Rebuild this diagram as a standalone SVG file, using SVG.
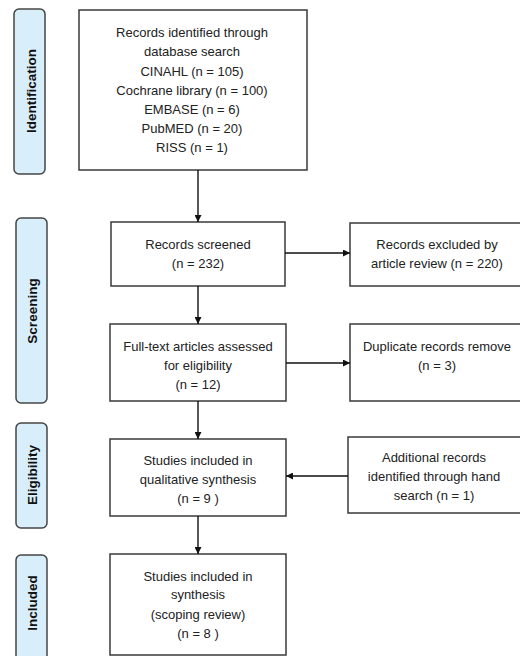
<svg xmlns="http://www.w3.org/2000/svg" width="520" height="656" viewBox="0 0 520 656">
<defs>
<style>
.box{fill:#fff;stroke:#3a3a3a;stroke-width:1.5}
.side{fill:#d8eefa;stroke:#454545;stroke-width:1.5}
.t{font-family:"Liberation Sans",Arial,sans-serif;font-size:13px;fill:#222;text-anchor:middle}
.s{font-family:"Liberation Sans",Arial,sans-serif;font-size:13.5px;font-weight:bold;fill:#111;text-anchor:middle}
.c{stroke:#111;stroke-width:1.4;fill:none;marker-end:url(#ah)}
</style>
<marker id="ah" viewBox="0 0 10 10" refX="10" refY="5" markerWidth="7" markerHeight="7" markerUnits="userSpaceOnUse" orient="auto">
<path d="M0,0 L10,5 L0,10 z" fill="#111"/>
</marker>
</defs>
<rect width="520" height="656" fill="#fff"/>
<g id="phase-identification"><rect class="side" x="14" y="9" width="31" height="165" rx="5"/><text class="s" transform="translate(35.5,91) rotate(-90)">Identification</text></g>
<g id="phase-screening"><rect class="side" x="16" y="218" width="31" height="185" rx="5"/><text class="s" transform="translate(36.5,311) rotate(-90)">Screening</text></g>
<g id="phase-eligibility"><rect class="side" x="16" y="423" width="31" height="105" rx="5"/><text class="s" transform="translate(36.5,475) rotate(-90)">Eligibility</text></g>
<g id="phase-included"><rect class="side" x="16" y="555" width="31" height="106" rx="5"/><text class="s" transform="translate(36.5,603) rotate(-90)">Included</text></g>
<g id="identified"><rect class="box" x="79" y="10" width="228" height="160"/>
<text class="t" x="192" y="37">Records identified through</text>
<text class="t" x="192" y="56">database search</text>
<text class="t" x="192" y="75.5">CINAHL (n = 105)</text>
<text class="t" x="192" y="94.5">Cochrane library (n = 100)</text>
<text class="t" x="192" y="114">EMBASE (n = 6)</text>
<text class="t" x="192" y="133">PubMED (n = 20)</text>
<text class="t" x="192" y="152">RISS (n = 1)</text></g>
<g id="screened"><rect class="box" x="111" y="222" width="174" height="64"/>
<text class="t" x="198" y="248.5">Records screened</text>
<text class="t" x="198" y="267.5">(n = 232)</text></g>
<g id="excluded"><rect class="box" x="350" y="223" width="175" height="63"/>
<text class="t" x="437" y="248.5">Records excluded by</text>
<text class="t" x="437" y="267.5">article review (n = 220)</text></g>
<g id="fulltext"><rect class="box" x="110" y="324" width="176" height="77"/>
<text class="t" x="198" y="350.5">Full-text articles assessed</text>
<text class="t" x="198" y="369.5">for eligibility</text>
<text class="t" x="198" y="388.5">(n = 12)</text></g>
<g id="duplicate"><rect class="box" x="350" y="324" width="175" height="77"/>
<text class="t" x="437" y="350.5">Duplicate records remove</text>
<text class="t" x="437" y="369.5">(n = 3)</text></g>
<g id="qualitative"><rect class="box" x="110" y="439" width="176" height="77"/>
<text class="t" x="198" y="464.5">Studies included in</text>
<text class="t" x="198" y="483.5">qualitative synthesis</text>
<text class="t" x="198" y="502.5">(n = 9 )</text></g>
<g id="additional"><rect class="box" x="348" y="437" width="177" height="76"/>
<text class="t" x="434" y="461.5">Additional records</text>
<text class="t" x="434" y="481">identified through hand</text>
<text class="t" x="434" y="499.5">search (n = 1)</text></g>
<g id="included"><rect class="box" x="110" y="554" width="176" height="101"/>
<text class="t" x="198" y="580.5">Studies included in</text>
<text class="t" x="198" y="599">synthesis</text>
<text class="t" x="198" y="618.5">(scoping review)</text>
<text class="t" x="198" y="637.5">(n = 8 )</text></g>
<g id="connectors">
<line class="c" x1="198" y1="170" x2="198" y2="222"/>
<line class="c" x1="285" y1="253" x2="350" y2="253"/>
<line class="c" x1="198" y1="286" x2="198" y2="324"/>
<line class="c" x1="286" y1="363" x2="350" y2="363"/>
<line class="c" x1="198" y1="401" x2="198" y2="439"/>
<line class="c" x1="348" y1="476" x2="286" y2="476"/>
<line class="c" x1="198" y1="516" x2="198" y2="554"/>
</g>
</svg>
